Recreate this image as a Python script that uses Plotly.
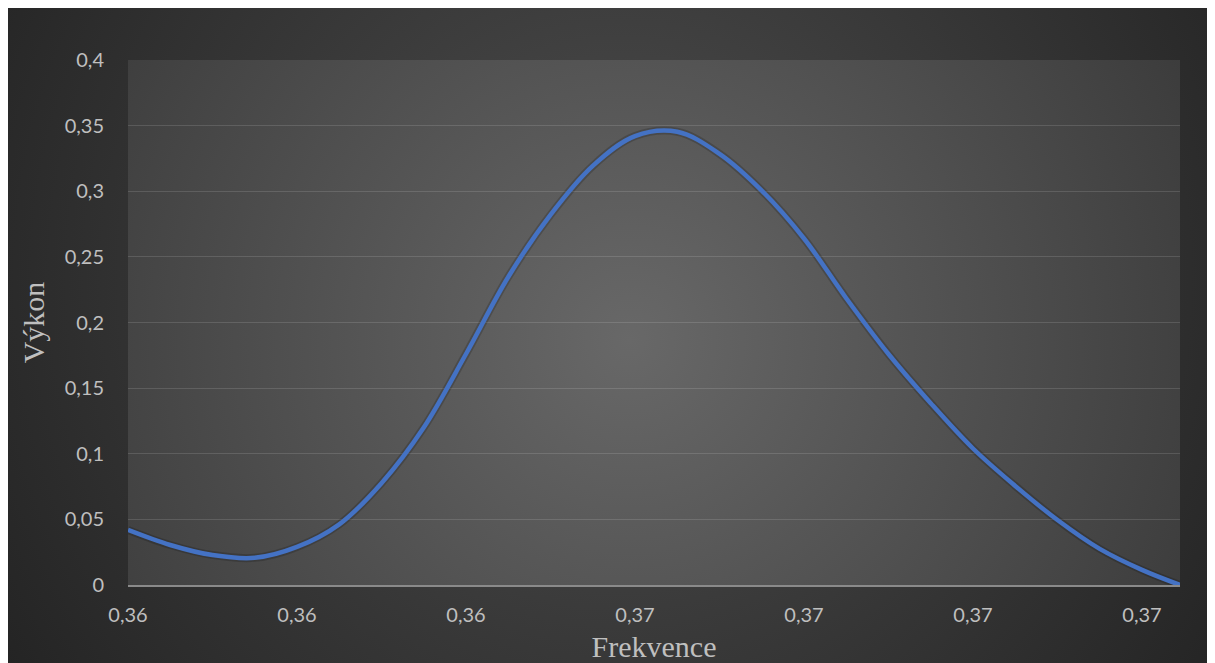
import base64
import plotly.graph_objects as go

# ---- data ----
frekvence = [0.3600, 0.3605, 0.3610, 0.3615, 0.3620, 0.3625, 0.3630,
             0.3635, 0.3640, 0.3645, 0.3650, 0.3655, 0.3660, 0.3665,
             0.3670, 0.3675, 0.3680, 0.3685, 0.3690, 0.3695, 0.3700,
             0.3705, 0.3710, 0.3715, 0.3720, 0.37245]
vykon = [0.042, 0.0305, 0.0228, 0.0207, 0.0290, 0.0462, 0.0776,
         0.120, 0.176, 0.2347, 0.282, 0.3193, 0.342, 0.3453,
         0.3285, 0.3005, 0.264, 0.2185, 0.176, 0.1385, 0.104,
         0.0755, 0.0495, 0.0275, 0.0115, 0.0]

x_tick_vals = [0.360, 0.362, 0.364, 0.366, 0.368, 0.370, 0.372]
x_tick_text = ["0,36", "0,36", "0,36", "0,37", "0,37", "0,37", "0,37"]

# figure geometry (page draws the figure at an 8px body offset)
W, H = 1207, 655
L, T = 120, 52
PW, PH = 1052, 525
R, B = W - L - PW, H - T - PH

svg = f"""<svg xmlns='http://www.w3.org/2000/svg' width='{W}' height='{H}' viewBox='0 0 {W} {H}' preserveAspectRatio='none'>
<defs>
<radialGradient id='o' gradientUnits='userSpaceOnUse' cx='612' cy='272' r='760'>
<stop offset='0' stop-color='#4e4e4e'/><stop offset='1' stop-color='#222222'/>
</radialGradient>
<radialGradient id='p' gradientUnits='userSpaceOnUse' cx='622' cy='332' r='620'>
<stop offset='0' stop-color='#686868'/><stop offset='1' stop-color='#3c3c3c'/>
</radialGradient>
</defs>
<rect x='0' y='0' width='{W}' height='{H}' fill='url(#o)'/>
<rect x='{L}' y='{T}' width='{PW}' height='{PH}' fill='url(#p)'/>
</svg>"""
bg_src = "data:image/svg+xml;base64," + base64.b64encode(svg.encode()).decode()

fig = go.Figure()
fig.add_trace(go.Scatter(
    x=frekvence, y=vykon, mode="lines",
    line=dict(color="rgba(0,0,0,0.18)", width=8, shape="spline", smoothing=1.0),
    hoverinfo="skip", showlegend=False))
fig.add_trace(go.Scatter(
    x=frekvence, y=vykon, mode="lines", name="Výkon",
    line=dict(color="#4472C4", width=4.5, shape="spline", smoothing=1.0),
    showlegend=False))

fig.add_layout_image(dict(
    source=bg_src, xref="paper", yref="paper",
    x=-L / PW, y=1 + T / PH, sizex=W / PW, sizey=H / PH,
    xanchor="left", yanchor="top", sizing="stretch", layer="below"))

tick_font = dict(family="Lato, 'Open Sans', sans-serif", size=20, color="#bfbfbf")
title_font = dict(family="'Liberation Serif', 'Times New Roman', serif", size=30, color="#bfbfbf")

fig.update_layout(
    width=W, height=H,
    margin=dict(l=L, r=R, t=T, b=B, pad=0),
    paper_bgcolor="#2a2a2a",
    plot_bgcolor="rgba(0,0,0,0)",
    separators=", ",
    showlegend=False,
    xaxis=dict(
        range=[frekvence[0], frekvence[-1]],
        tickmode="array", tickvals=x_tick_vals, ticktext=x_tick_text,
        showgrid=False, zeroline=False, automargin=False,
        showline=True, linecolor="#8a8a8a", linewidth=1.5,
        ticks="", ticklabelstandoff=11,
        tickfont=tick_font,
        title=dict(text="Frekvence", font=title_font, standoff=13),
    ),
    yaxis=dict(
        range=[0, 0.4], dtick=0.05, tick0=0,
        showgrid=True, gridcolor="rgba(255,255,255,0.13)", gridwidth=1,
        zeroline=False, showline=False, automargin=False,
        ticks="", ticklabelstandoff=23,
        tickfont=tick_font,
        title=dict(text="Výkon", font=title_font, standoff=11),
    ),
)

fig.write_html("out.html")
